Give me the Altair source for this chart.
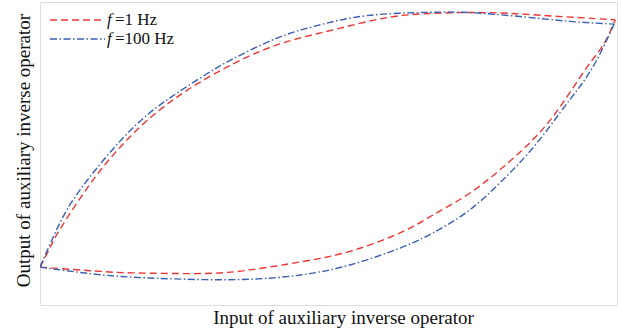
import altair as alt
import pandas as pd

# Hysteresis loops of the auxiliary inverse operator (normalised input/output)
# upper branch: rising input, lower branch: falling input (both listed left -> right)
red_up_x = [0, 0.017, 0.036, 0.083, 0.130, 0.187, 0.256, 0.338, 0.421, 0.508, 0.594, 0.676, 0.775, 0.861, 0.948, 0.997]
red_up_y = [0.125, 0.188, 0.254, 0.389, 0.502, 0.611, 0.710, 0.799, 0.865, 0.908, 0.946, 0.962, 0.965, 0.957, 0.947, 0.941]
red_lo_x = [0, 0.104, 0.161, 0.282, 0.364, 0.451, 0.537, 0.624, 0.681, 0.740, 0.797, 0.854, 0.901, 0.948, 0.976, 0.997]
red_lo_y = [0.125, 0.111, 0.106, 0.104, 0.116, 0.142, 0.177, 0.238, 0.297, 0.363, 0.446, 0.545, 0.653, 0.785, 0.858, 0.941]

blue_up_x = [0, 0.031, 0.062, 0.113, 0.170, 0.227, 0.286, 0.334, 0.411, 0.480, 0.567, 0.676, 0.745, 0.832, 0.919, 0.995]
blue_up_y = [0.125, 0.257, 0.360, 0.485, 0.601, 0.686, 0.759, 0.812, 0.881, 0.922, 0.955, 0.966, 0.965, 0.952, 0.936, 0.927]
blue_lo_x = [0, 0.104, 0.191, 0.277, 0.364, 0.451, 0.537, 0.624, 0.681, 0.740, 0.797, 0.854, 0.901, 0.936, 0.965, 0.995]
blue_lo_y = [0.125, 0.100, 0.089, 0.084, 0.085, 0.099, 0.132, 0.188, 0.238, 0.307, 0.403, 0.518, 0.634, 0.722, 0.809, 0.927]

series_names = ["f=1 Hz", "f=100 Hz"]
legend_rest = ["=1 Hz", "=100 Hz"]
colors = ["#f23535", "#3a5fb4"]
dashes = [[7, 4], [7, 2.5, 1.5, 2.5]]


def branches(name, ux, uy, lx, ly):
    up = pd.DataFrame({"x": ux, "y": uy, "branch": "up"})
    lo = pd.DataFrame({"x": lx, "y": ly, "branch": "down"})
    out = pd.concat([up, lo])
    out["series"] = name
    return out


df = pd.concat([
    branches(series_names[0], red_up_x, red_up_y, red_lo_x, red_lo_y),
    branches(series_names[1], blue_up_x, blue_up_y, blue_lo_x, blue_lo_y),
])

FONT = "Liberation Serif"

xs = alt.Scale(domain=[0, 1], nice=False, zero=False)
ys = alt.Scale(domain=[0, 1], nice=False, zero=False)

layers = []
for i, name in enumerate(series_names):
    sub = df[df.series == name]
    layers.append(
        alt.Chart(sub).mark_line(
            color=colors[i], strokeDash=dashes[i], strokeWidth=1.4,
            interpolate="natural", clip=True
        ).encode(
            x=alt.X("x:Q", scale=xs, title="Input of auxiliary inverse operator",
                    axis=alt.Axis(ticks=False, labels=False, domain=False, grid=False,
                                  titleFont=FONT, titleFontSize=19, titleFontWeight="normal",
                                  titleColor="#111", titlePadding=3, titleX=303)),
            y=alt.Y("y:Q", scale=ys, title="Output of auxiliary inverse operator",
                    axis=alt.Axis(ticks=False, labels=False, domain=False, grid=False,
                                  titleFont=FONT, titleFontSize=19, titleFontWeight="normal",
                                  titleColor="#111", titlePadding=7, titleY=148)),
            detail="branch:N",
        )
    )

# legend in the upper-left corner of the plot
legend_y = [18, 37]
for i in range(len(series_names)):
    anchor = pd.DataFrame({"k": [0]})
    yy = legend_y[i]
    layers.append(
        alt.Chart(anchor).mark_rule(color=colors[i], strokeDash=dashes[i], strokeWidth=1.4).encode(
            x=alt.value(10), x2=alt.value(65), y=alt.value(yy)
        )
    )
    layers.append(
        alt.Chart(anchor).mark_text(text="f", font=FONT, fontSize=17, fontStyle="italic",
                                    align="left", baseline="middle", color="#111").encode(
            x=alt.value(67), y=alt.value(yy)
        )
    )
    layers.append(
        alt.Chart(anchor).mark_text(text=legend_rest[i], font=FONT, fontSize=17,
                                    align="left", baseline="middle", color="#111").encode(
            x=alt.value(75), y=alt.value(yy)
        )
    )

chart = alt.layer(*layers).properties(
    width=577, height=303,
    autosize=alt.AutoSizeParams(type="none"),
    padding={"left": 40, "top": 2, "right": 5, "bottom": 29},
).configure_view(
    stroke="#333", strokeWidth=1.5
).configure(background="white")

chart.save("out.html", embed_options={"renderer": "svg", "actions": False})
